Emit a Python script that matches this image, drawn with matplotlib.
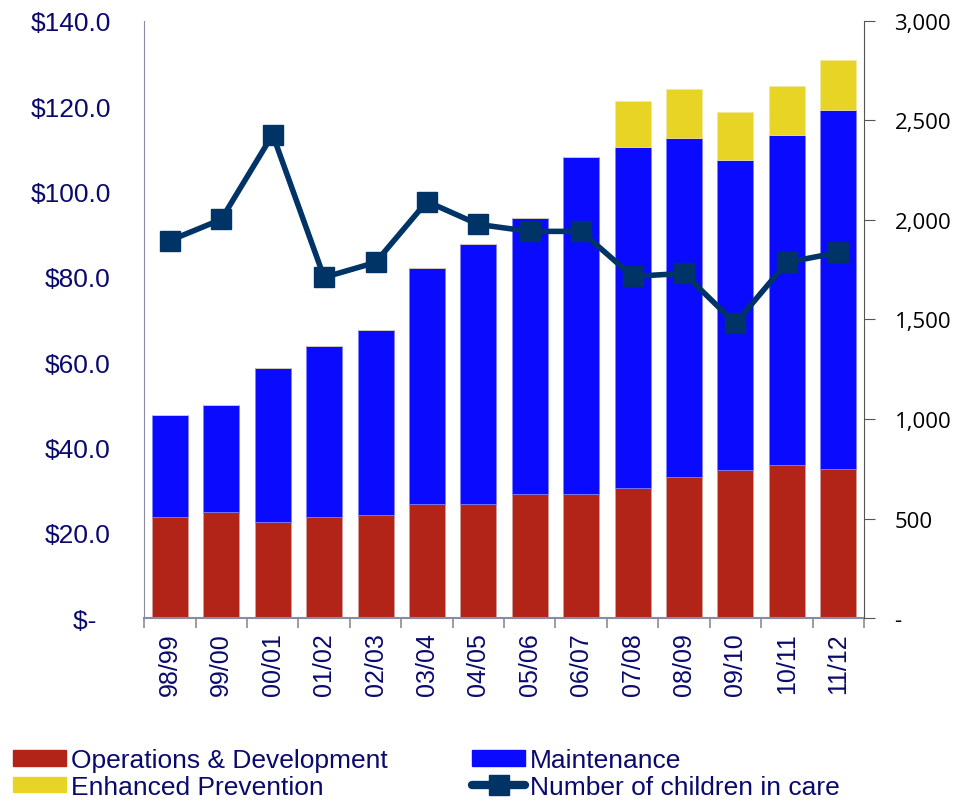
import matplotlib.pyplot as plt
import matplotlib.ticker as mticker
from matplotlib.patches import Patch
from matplotlib.lines import Line2D
import numpy as np

years = ['98/99', '99/00', '00/01', '01/02', '02/03', '03/04', '04/05',
         '05/06', '06/07', '07/08', '08/09', '09/10', '10/11', '11/12']
ops_dev = [23.6, 24.8, 22.5, 23.6, 24.1, 26.7, 26.7, 29.0, 29.0, 30.4, 33.0, 34.7, 35.8, 34.9]
maintenance = [23.9, 25.1, 36.0, 40.1, 43.3, 55.3, 60.9, 64.7, 79.0, 79.9, 79.6, 72.6, 77.3, 84.1]
prevention = [0, 0, 0, 0, 0, 0, 0, 0, 0, 10.8, 11.5, 11.4, 11.5, 11.7]
children = [1896, 2002, 2428, 1711, 1786, 2092, 1977, 1942, 1942, 1716, 1731, 1480, 1786, 1836]

red = '#B22418'
blue = '#0A0AFF'
yellow = '#E8D424'
navy_line = '#003366'
txt = '#0A0A6E'
grey = '#8A8AA0'

fig = plt.figure(figsize=(9.61, 8.03), dpi=100)
ax = fig.add_axes([0.15, 0.229, 0.749, 0.744])
ax2 = ax.twinx()

x = np.arange(len(years))
w = 0.7
ax.bar(x, ops_dev, w, color=red, edgecolor='#D0A0A0', linewidth=0.5)
ax.bar(x, maintenance, w, bottom=ops_dev, color=blue, edgecolor='#8080FF', linewidth=0.5)
bot2 = np.array(ops_dev) + np.array(maintenance)
ax.bar(x, prevention, w, bottom=bot2, color=yellow, edgecolor='#F0E8A0', linewidth=0.5)

ax2.plot(x, children, color=navy_line, lw=4, marker='s', ms=14, zorder=5)

ax.set_xlim(-0.5, len(years) - 0.5)
ax.set_ylim(0, 140)
ax2.set_ylim(0, 3000)

ax.set_yticks(np.arange(0, 141, 20))
ax.yaxis.set_major_formatter(mticker.FuncFormatter(
    lambda v, p: '$-  ' if v == 0 else '${:.1f}'.format(v)))
ax.tick_params(axis='y', length=0, labelsize=19, labelcolor=txt, pad=24)
for lab in ax.get_yticklabels():
    lab.set_family('Liberation Sans')

ax2.set_yticks(np.arange(0, 3001, 500))
ax2.yaxis.set_major_formatter(mticker.FuncFormatter(
    lambda v, p: '-' if v == 0 else '{:,.0f}'.format(v)))
ax2.tick_params(axis='y', length=8, color='#555555', labelsize=16, labelcolor='black', pad=14)
for lab in ax2.get_yticklabels():
    lab.set_family('Open Sans')

ax.set_xticks(x)
ax.set_xticklabels(years, rotation=90, fontsize=18, color=txt, family='Liberation Sans')
ax.tick_params(axis='x', which='major', length=0, pad=10)
ax.set_xticks(np.arange(-0.5, len(years), 1), minor=True)
ax.tick_params(axis='x', which='minor', length=7, color=grey, width=1.2)

for a in (ax, ax2):
    a.spines['top'].set_visible(False)
ax.spines['left'].set_color(grey)
ax.spines['bottom'].set_color(grey)
ax.spines['bottom'].set_linewidth(1.5)
ax.spines['right'].set_visible(False)
ax2.spines['left'].set_visible(False)
ax2.spines['bottom'].set_visible(False)
ax2.spines['right'].set_color('#555555')

handles = [Patch(color=red, label='Operations & Development'),
           Patch(color=yellow, label='Enhanced Prevention'),
           Patch(color=blue, label='Maintenance'),
           Line2D([], [], color=navy_line, lw=6, marker='s', ms=15,
                  solid_capstyle='round', label='Number of children in care')]
leg = fig.legend(handles=handles, loc='lower left', bbox_to_anchor=(0.0135, 0.004),
                 ncol=2, frameon=False, handlelength=2.0, handleheight=0.55,
                 handletextpad=0.2, columnspacing=3.2, labelspacing=0.1,
                 borderaxespad=0, borderpad=0,
                 prop={'family': 'Liberation Sans', 'size': 19})
for t in leg.get_texts():
    t.set_color(txt)

fig.savefig('out.png', dpi=100)
